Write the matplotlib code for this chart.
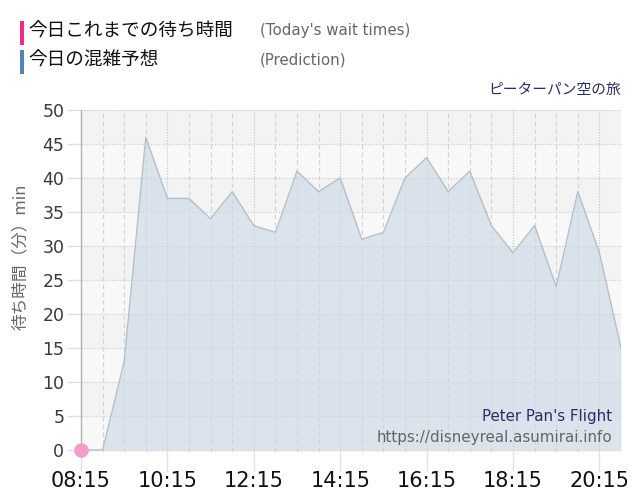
import matplotlib
matplotlib.use("Agg")
import matplotlib.pyplot as plt
import numpy as np

plt.rcParams['font.family'] = ['Noto Sans CJK JP', 'DejaVu Sans']

# ---- data ----
pred_times = ["08:15", "08:45", "09:15", "09:45", "10:15", "10:45", "11:15", "11:45",
              "12:15", "12:45", "13:15", "13:45", "14:15", "14:45", "15:15", "15:45",
              "16:15", "16:45", "17:15", "17:45", "18:15", "18:45", "19:15", "19:45",
              "20:15", "20:45"]
pred_values = [0, 0, 13, 46, 37, 37, 34, 38, 33, 32, 41, 38, 40, 31, 32, 40,
               43, 38, 41, 33, 29, 33, 24, 38, 29, 15]
actual_times = ["08:15"]
actual_values = [0]
xtick_labels = ["08:15", "10:15", "12:15", "14:15", "16:15", "18:15", "20:15"]
ytick_values = [0, 5, 10, 15, 20, 25, 30, 35, 40, 45, 50]


def to_min(t):
    h, m = t.split(":")
    return int(h) * 60 + int(m)


px = [to_min(t) for t in pred_times]
ax_x = [to_min(t) for t in actual_times]
xt = [to_min(t) for t in xtick_labels]

fig = plt.figure(figsize=(6.4, 5.0), dpi=100)
ax = fig.add_axes([81 / 640, 1 - 452 / 500, (621 - 81) / 640, (452 - 110) / 500])

x0, x1 = px[0], px[-1]
ax.set_xlim(x0, x1)
ax.set_ylim(-0.3, 50)

# background bands
for i in range(10):
    lo = i * 5
    col = '#f8f8f8' if i % 2 == 0 else '#f3f3f3'
    ax.axhspan(lo if i > 0 else -0.3, lo + 5, color=col, zorder=0, lw=0)

# horizontal grid (dotted)
for v in ytick_values:
    ax.axhline(v, color='#c8c8c8', lw=0.8, ls=(0, (1, 1.5)), zorder=1)

# vertical grid every 30 minutes
for m in range(x0 + 30, x1 + 1, 30):
    if m in xt:
        ax.axvline(m, color='#c4c4c4', lw=0.8, ls=(0, (1, 1.5)), zorder=1)
    else:
        ax.axvline(m, color='#d2d2d2', lw=0.8, ls=(0, (4, 3)), zorder=1)

# prediction area
ax.fill_between(px, pred_values, 0, color='#c9d7e4', alpha=0.6, lw=0, zorder=2)
ax.plot(px, pred_values, color='#b3c0cb', lw=1.0, zorder=3)

# actual point
ax.scatter(ax_x, actual_values, s=110, color='#f59ccb', zorder=5, clip_on=False, lw=0)

# axes styling
for s in ['top', 'right', 'bottom']:
    ax.spines[s].set_visible(False)
ax.spines['left'].set_color('#b0b0b0')
ax.spines['left'].set_linewidth(1.0)

ax.set_yticks(ytick_values)
ax.set_yticklabels([str(v) for v in ytick_values], fontsize=12.5, color='#3a3a3a',
                   family=['DejaVu Sans'])
ax.tick_params(axis='y', length=10, color='#e0e0e0', width=1, pad=2)

ax.set_xticks(xt)
ax.set_xticklabels(xtick_labels, fontsize=15, color='#111111', family=['DejaVu Sans'])
ax.tick_params(axis='x', length=14, color='#e2e2e2', width=1, pad=0)

ax.set_ylabel('待ち時間（分）min', fontsize=12, color='#666666', labelpad=4)
ax.yaxis.set_label_coords(-0.097, 0.57)

# legend-like header
fig.patches.append(plt.Rectangle((20 / 640, 1 - 45 / 500), 4 / 640, 24 / 500,
                                 transform=fig.transFigure, color='#ee2a8f', lw=0))
fig.patches.append(plt.Rectangle((20 / 640, 1 - 74 / 500), 4 / 640, 24 / 500,
                                 transform=fig.transFigure, color='#4f86b8', lw=0))
fig.text(28 / 640, 1 - 32 / 500, '今日これまでの待ち時間', fontsize=13.4, color='#111111',
         va='center', ha='left')
fig.text(28 / 640, 1 - 61 / 500, '今日の混雑予想', fontsize=13.4, color='#111111',
         va='center', ha='left')
fig.text(260 / 640, 1 - 31 / 500, "(Today's wait times)", fontsize=10.8, color='#666666',
         va='center', ha='left', family=['DejaVu Sans'])
fig.text(260 / 640, 1 - 60 / 500, "(Prediction)", fontsize=10.8, color='#666666',
         va='center', ha='left', family=['DejaVu Sans'])
fig.text(621 / 640, 1 - 90 / 500, 'ピーターパン空の旅', fontsize=10.6, color='#2b2b6b',
         va='center', ha='right')

# watermark
ax.text(0.983, 0.105, "Peter Pan's Flight", transform=ax.transAxes, fontsize=10.8,
        color='#2b2b6b', ha='right', va='center', family=['DejaVu Sans'])
ax.text(0.983, 0.043, "https://disneyreal.asumirai.info", transform=ax.transAxes,
        fontsize=10.9, color='#666666', ha='right', va='center', family=['DejaVu Sans'])

fig.savefig('out.png', dpi=100)
